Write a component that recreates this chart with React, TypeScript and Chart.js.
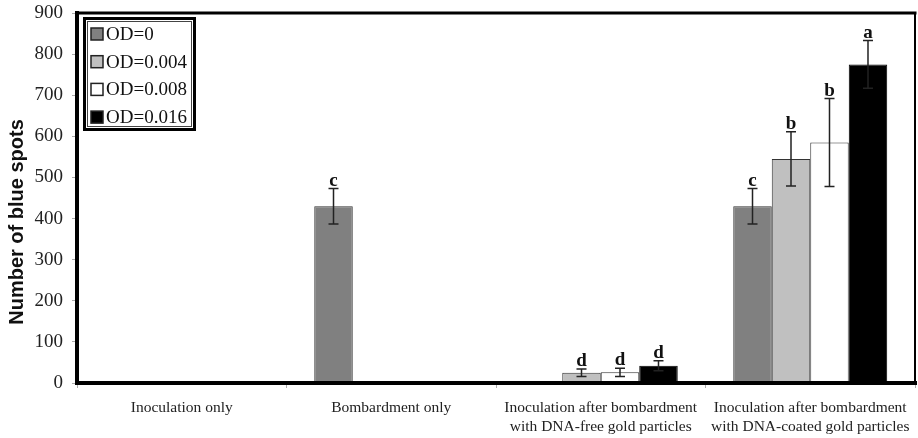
import React, { useEffect, useRef } from "react";
import { Chart, registerables } from "chart.js";

Chart.register(...registerables);

const categories: (string | string[])[] = [
  "Inoculation only",
  "Bombardment only",
  ["Inoculation after bombardment", "with DNA-free gold particles"],
  ["Inoculation after bombardment", "with DNA-coated gold particles"],
];

const seriesLabels = ["OD=0", "OD=0.004", "OD=0.008", "OD=0.016"];

const od0 = [0, 430, 0, 430];
const od004 = [0, 0, 25, 545];
const od008 = [0, 0, 26, 585];
const od016 = [0, 0, 42, 775];

const err0 = [0, 43, 0, 43];
const err004 = [0, 0, 9, 66];
const err008 = [0, 0, 10, 107];
const err016 = [0, 0, 12, 58];

const letters0 = ["", "c", "", "c"];
const letters004 = ["", "", "d", "b"];
const letters008 = ["", "", "d", "b"];
const letters016 = ["", "", "d", "a"];

const yTicks = [0, 100, 200, 300, 400, 500, 600, 700, 800, 900];
const yTitle = "Number of blue spots";

const fills = ["#808080", "#c0c0c0", "#ffffff", "#000000"];
const borders = ["#333333", "#333333", "#333333", "#000000"];

const values = [od0, od004, od008, od016];
const errors = [err0, err004, err008, err016];
const letters = [letters0, letters004, letters008, letters016];

const SERIF = "'Liberation Serif', 'Times New Roman', serif";
const SANS = "'Liberation Sans', Arial, sans-serif";

const extrasPlugin = {
  id: "extras",
  afterDatasetsDraw(chart: any) {
    const ctx = chart.ctx;
    const y = chart.scales.y;
    ctx.save();
    chart.data.datasets.forEach((ds: any, i: number) => {
      const meta = chart.getDatasetMeta(i);
      meta.data.forEach((el: any, j: number) => {
        const v = ds.data[j];
        const e = ds.errors[j];
        const x = el.x;
        let topY = y.getPixelForValue(v);
        if (e > 0) {
          const yt = y.getPixelForValue(v + e);
          const yb = y.getPixelForValue(v - e);
          ctx.strokeStyle = "#222";
          ctx.lineWidth = 1.5;
          ctx.beginPath();
          ctx.moveTo(x, yt);
          ctx.lineTo(x, yb);
          ctx.moveTo(x - 5, yt);
          ctx.lineTo(x + 5, yt);
          ctx.moveTo(x - 5, yb);
          ctx.lineTo(x + 5, yb);
          ctx.stroke();
          topY = yt;
        }
        const l = ds.letters[j];
        if (l) {
          ctx.fillStyle = "#111";
          ctx.font = `bold 19px ${SERIF}`;
          ctx.textAlign = "center";
          ctx.textBaseline = "alphabetic";
          ctx.fillText(l, x, topY - 3);
        }
      });
    });
    ctx.restore();
  },
  afterDraw(chart: any) {
    const ctx = chart.ctx;
    const a = chart.chartArea;
    ctx.save();
    ctx.strokeStyle = "#000";
    ctx.lineCap = "square";
    // top
    ctx.lineWidth = 3;
    ctx.beginPath();
    ctx.moveTo(a.left, a.top);
    ctx.lineTo(a.right, a.top);
    ctx.stroke();
    // right
    ctx.lineWidth = 2;
    ctx.beginPath();
    ctx.moveTo(a.right, a.top);
    ctx.lineTo(a.right, a.bottom);
    ctx.stroke();
    // left and bottom
    ctx.lineWidth = 4;
    ctx.beginPath();
    ctx.moveTo(a.left, a.top);
    ctx.lineTo(a.left, a.bottom);
    ctx.lineTo(a.right, a.bottom);
    ctx.stroke();

    // y-axis title
    ctx.save();
    ctx.translate(17, 222);
    ctx.rotate(-Math.PI / 2);
    ctx.fillStyle = "#111";
    ctx.font = `bold 20px ${SANS}`;
    ctx.textAlign = "center";
    ctx.textBaseline = "middle";
    ctx.fillText(yTitle, 0, 0);
    ctx.restore();

    // legend
    const bx = a.left + 6;
    const by = a.top + 4;
    const bw = 113;
    const bh = 114;
    ctx.fillStyle = "#fff";
    ctx.fillRect(bx, by, bw, bh);
    ctx.lineWidth = 3;
    ctx.strokeStyle = "#000";
    ctx.strokeRect(bx + 1.5, by + 1.5, bw - 3, bh - 3);
    ctx.lineWidth = 1;
    ctx.strokeStyle = "#444";
    ctx.strokeRect(bx + 4.5, by + 4.5, bw - 9, bh - 9);
    chart.data.datasets.forEach((ds: any, i: number) => {
      const cy = by + 17 + i * 27.7;
      ctx.fillStyle = ds.backgroundColor;
      ctx.fillRect(bx + 8, cy - 6, 12, 12);
      ctx.lineWidth = 1.5;
      ctx.strokeStyle = "#222";
      ctx.strokeRect(bx + 8, cy - 6, 12, 12);
      ctx.fillStyle = "#111";
      ctx.font = `19px ${SERIF}`;
      ctx.textAlign = "left";
      ctx.textBaseline = "middle";
      ctx.fillText(ds.label, bx + 23, cy + 1);
    });
    ctx.restore();
  },
};

export default function App() {
  const ref = useRef<HTMLCanvasElement>(null);
  useEffect(() => {
    if (!ref.current) return;
    const chart = new Chart(ref.current, {
      type: "bar",
      data: {
        labels: categories,
        datasets: seriesLabels.map((label, i) => ({
          label,
          data: values[i],
          errors: errors[i],
          letters: letters[i],
          backgroundColor: fills[i],
          borderColor: borders[i],
          borderWidth: 1,
          categoryPercentage: 0.735,
          barPercentage: 1,
        })) as any,
      },
      options: {
        responsive: false,
        animation: false,
        events: [],
        layout: { padding: { top: 13, right: 3, left: 0, bottom: 0 } },
        plugins: {
          legend: { display: false },
          tooltip: { enabled: false },
        },
        scales: {
          x: {
            grid: {
              display: true,
              drawOnChartArea: false,
              drawTicks: true,
              tickLength: 5,
              offset: true,
              color: "#aaa",
            },
            border: { display: false },
            ticks: {
              color: "#222",
              font: { family: SERIF, size: 15.5 },
              padding: 11,
              maxRotation: 0,
              autoSkip: false,
            },
            afterFit: (s: any) => {
              s.height = 55;
              s.paddingLeft = 0;
              s.paddingRight = 0;
            },
          },
          y: {
            min: 0,
            max: 900,
            afterBuildTicks: (s: any) => {
              s.ticks = yTicks.map((v) => ({ value: v }));
            },
            grid: {
              display: true,
              drawOnChartArea: false,
              drawTicks: true,
              tickLength: 5,
              color: "#aaa",
            },
            border: { display: false },
            ticks: {
              color: "#222",
              font: { family: SERIF, size: 19 },
              padding: 9,
            },
            title: { display: false },
            afterFit: (s: any) => {
              s.width = 77;
              s.paddingTop = 0;
              s.paddingBottom = 0;
            },
          },
        },
      },
      plugins: [extrasPlugin],
    } as any);
    return () => chart.destroy();
  }, []);
  return (
    <div style={{ position: "fixed", left: 0, top: 0, width: 918, height: 438, background: "#fff" }}>
      <canvas ref={ref} width={918} height={438} />
    </div>
  );
}
